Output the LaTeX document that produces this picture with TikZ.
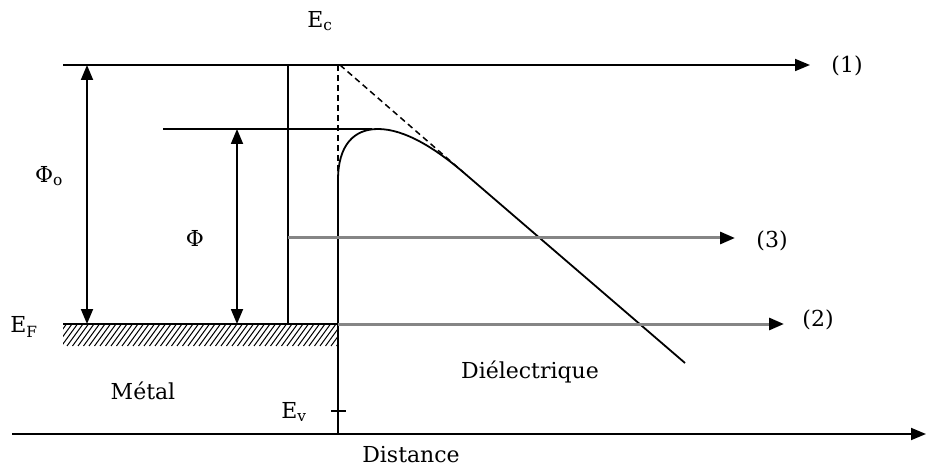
\documentclass[tikz,border=0pt]{standalone}
\usepackage{fontspec}
\setmainfont{DejaVu Serif}
\usetikzlibrary{arrows.meta}

\begin{document}
\begin{tikzpicture}[x=1pt,y=-1pt]
\tikzset{
  level/.style={draw=black,line width=1.8pt},
  levelarrow/.style={level,-{Triangle[length=15pt,width=12pt]}},
  grayarrow/.style={draw=black!48,line width=3pt,-{Triangle[length=15pt,width=12pt,black]}},
  gaparrow/.style={level,{Triangle[length=15pt,width=12pt]}-{Triangle[length=15pt,width=12pt]}},
  guide/.style={draw=black,line width=1.5pt,dash pattern=on 6pt off 4pt},
  hatch/.style={draw=black,line width=1pt},
  lbl/.style={inner sep=0pt,font=\fontsize{22}{24}\selectfont}
}
\useasboundingbox (0,0) rectangle (926,470);
% key points of the band diagram
\coordinate (vacL) at (63,65);
\coordinate (vacR) at (810,65);
\coordinate (wallT) at (288,65);
\coordinate (wallB) at (288,324);
\coordinate (efL) at (63,324);
\coordinate (efR) at (338,324);
\coordinate (barL) at (163,129);
\coordinate (barR) at (372,129);
\coordinate (peak) at (378,129);
\coordinate (knee) at (338,180);
\coordinate (join) at (463,172);
\coordinate (tail) at (685,363);
\coordinate (apex) at (340,65);
\coordinate (apexB) at (338,65);
\coordinate (iface) at (338,434);
\coordinate (axL) at (12,434);
\coordinate (axR) at (926,434);
% labels
\node[lbl] (l_ec) at (320,21) {E\textsubscript{c}};
\node[lbl] (l_1) at (847,66) {(1)};
\node[lbl] (l_3) at (772,241) {(3)};
\node[lbl] (l_2) at (818,320) {(2)};
\node[lbl] (l_ef) at (24,327) {E\textsubscript{F}};
\node[lbl] (l_phio) at (49,176) {Φ\textsubscript{o}};
\node[lbl] (l_phi) at (195,238) {Φ};
\node[lbl] (l_metal) at (143,391) {Métal};
\node[lbl] (l_ev) at (294,412) {E\textsubscript{v}};
\node[lbl] (l_diel) at (530,372) {Diélectrique};
\node[lbl] (l_dist) at (411,455) {Distance};
% hatched metal
\begin{scope}
  \clip (63,324) rectangle (338,346);
  \foreach \x in {45,50.5,...,345}
    \draw[hatch] (\x,346) -- ++(16,-22);
\end{scope}
% levels
\draw[levelarrow] (vacL) -- (vacR);
\draw[level] (wallT) -- (wallB);
\draw[level] (barL) -- (barR);
\draw[level] (efL) -- (efR);
\draw[gaparrow] (87,65) -- (87,324);
\draw[gaparrow] (237,129) -- (237,324);
% barrier
\draw[guide] (apexB) -- (knee);
\draw[guide] (apex) -- (join);
\draw[level] (iface) -- (knee) .. controls (338,145) and (354,129) .. (peak)
  .. controls (405,129) and (436,149) .. (join) -- (tail);
\draw[level] (331,411) -- (346,411);
% electron paths
\draw[grayarrow] (288,238) -- (735,238);
\draw[grayarrow] (efR) -- (784,324);
% axis
\draw[levelarrow] (axL) -- (axR);
\end{tikzpicture}
\end{document}
